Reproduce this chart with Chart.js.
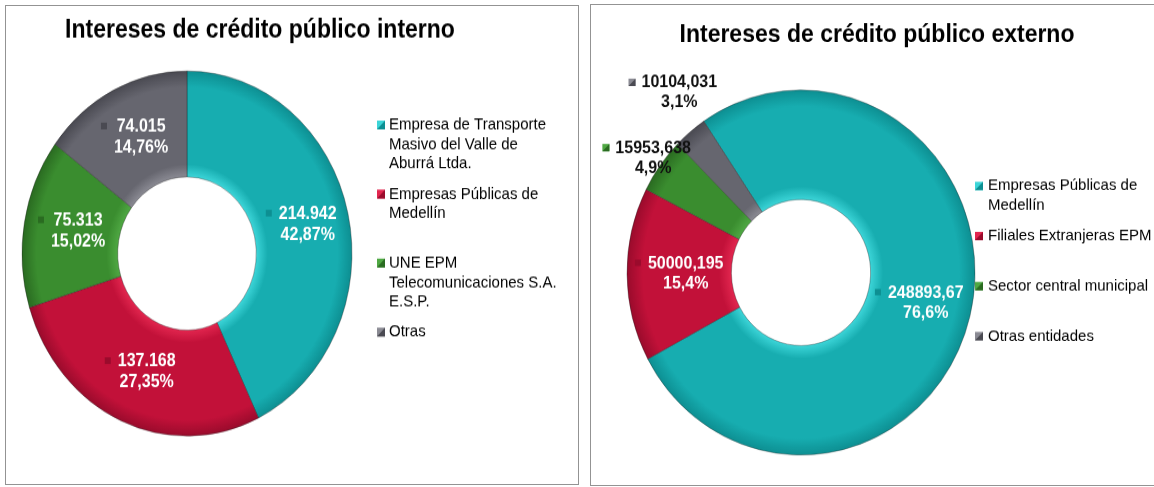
<!DOCTYPE html>
<html>
<head>
<meta charset="utf-8">
<script src="https://cdn.jsdelivr.net/npm/chart.js@4/dist/chart.umd.min.js"></script>
<style>
  html, body { margin: 0; padding: 0; background: #fff; width: 1154px; height: 487px; overflow: hidden; }
  .box { position: absolute; border: 1.5px solid #939393; box-sizing: border-box; }
  .wrap { position: absolute; top: 0; transform-origin: 0 0; }
  canvas { display: block; }
</style>
</head>
<body>
<div class="box" style="left:5px;top:5px;width:574px;height:480px"></div>
<div class="box" style="left:590px;top:4px;width:600px;height:482px"></div>
<div class="wrap" style="left:0px;transform:scaleY(1.106)"><canvas id="c1" width="580" height="440"></canvas></div>
<div class="wrap" style="left:590px;transform:scaleY(1.049)"><canvas id="c2" width="564" height="465"></canvas></div>
<script>
// ---------------- data ----------------
const internoTitle = 'Intereses de crédito público interno';
const internoCategories = [
  ['Empresa de Transporte', 'Masivo del Valle de', 'Aburrá Ltda.'],
  ['Empresas Públicas de', 'Medellín'],
  ['UNE EPM', 'Telecomunicaciones S.A.', 'E.S.P.'],
  ['Otras']
];
const internoValues = [214942, 137168, 75313, 74015];
const internoPercents = ['42,87%', '27,35%', '15,02%', '14,76%'];

const externoTitle = 'Intereses de crédito público externo';
const externoCategories = [
  ['Empresas Públicas de', 'Medellín'],
  ['Filiales Extranjeras EPM'],
  ['Sector central municipal'],
  ['Otras entidades']
];
const externoValues = [248893.67, 50000.195, 15953.638, 10104.031];
const externoPercents = ['76,6%', '15,4%', '4,9%', '3,1%'];

// ---------------- styles ----------------
const internoColors = ['#17adb0', '#c21139', '#3a8d2f', '#66666f'];
const externoColors = ['#17adb0', '#c21139', '#3a8d2f', '#66666f'];
const lightColors = { '#17adb0': '#3cd5d8', '#c21139': '#e2264f', '#3a8d2f': '#4fa843', '#66666f': '#8a8a93' };
const darkColors  = { '#17adb0': '#0d8f92', '#c21139': '#9a0b2c', '#3a8d2f': '#2a6b21', '#66666f': '#4a4a52' };
const FONT = '"Liberation Sans", Arial, Helvetica, sans-serif';

function fmtThousands(v) {
  return String(Math.round(v)).replace(/\B(?=(\d{3})+(?!\d))/g, '.');
}
function fmtDecimalComma(v) {
  return String(v).replace('.', ',');
}

function shaded(colors) {
  return (c) => {
    const base = colors[c.dataIndex];
    const chart = c.chart;
    const meta = chart.getDatasetMeta(0);
    const ctrl = meta && meta.controller;
    const ca = chart.chartArea;
    if (!ca || !ctrl || !ctrl.outerRadius) return base;
    const cx = (ca.left + ca.right) / 2, cy = (ca.top + ca.bottom) / 2;
    const g = chart.ctx.createRadialGradient(cx, cy, ctrl.innerRadius, cx, cy, ctrl.outerRadius);
    g.addColorStop(0, lightColors[base]);
    g.addColorStop(0.12, base);
    g.addColorStop(0.85, base);
    g.addColorStop(1, darkColors[base]);
    return g;
  };
}

function drawKey(ctx, x, y, s, base) {
  ctx.fillStyle = lightColors[base];
  ctx.fillRect(x, y, s, s);
  ctx.fillStyle = darkColors[base];
  ctx.beginPath();
  ctx.moveTo(x + s, y);
  ctx.lineTo(x + s, y + s);
  ctx.lineTo(x, y + s);
  ctx.closePath();
  ctx.fill();
}

const panelPlugin = {
  id: 'panelText',
  afterDraw(chart, args, o) {
    const ctx = chart.ctx;
    const meta = chart.getDatasetMeta(0);
    const values = chart.data.datasets[0].data;
    ctx.save();
    // title
    ctx.fillStyle = '#000';
    ctx.font = 'bold ' + o.titleSize + 'px ' + FONT;
    ctx.textAlign = 'center';
    ctx.textBaseline = 'middle';
    ctx.fillText(o.title, o.titleX, o.titleY);
    // legend
    ctx.font = o.legendSize + 'px ' + FONT;
    ctx.textAlign = 'left';
    chart.data.labels.forEach((lab, i) => {
      const lines = Array.isArray(lab) ? lab : [lab];
      const y0 = o.legendY + i * o.legendStep;
      drawKey(ctx, o.legendX, y0 - 4, 8, o.colors[i]);
      ctx.fillStyle = '#000';
      lines.forEach((ln, j) => ctx.fillText(ln, o.legendX + o.legendTextGap, y0 + j * o.legendLine));
    });
    // data labels
    ctx.font = 'bold ' + o.labelSize + 'px ' + FONT;
    meta.data.forEach((arc, i) => {
      const p = arc.getProps(['x', 'y', 'startAngle', 'endAngle', 'innerRadius', 'outerRadius'], true);
      const out = o.outside[i];
      const mid = (p.startAngle + p.endAngle) / 2 + (out ? out.da * Math.PI / 180 : 0);
      const r = out ? p.outerRadius + out.r : (p.innerRadius + p.outerRadius) / 2;
      const cx = p.x + Math.cos(mid) * r;
      const cy = p.y + Math.sin(mid) * r;
      const l1 = o.format(values[i]);
      const l2 = o.percents[i];
      const tw = Math.max(ctx.measureText(l1).width, ctx.measureText(l2).width);
      const key = 6, gap = 7;
      const bw = key + gap + tw;
      const left = cx - bw / 2;
      const tx = left + key + gap + tw / 2;
      const y1 = cy - o.labelLine / 2, y2 = cy + o.labelLine / 2;
      const base = o.colors[i];
      if (!out) {
        ctx.fillStyle = darkColors[base];
        ctx.fillRect(left, y1 - 4, key, key);
      } else {
        drawKey(ctx, left, y1 - 4, key + 1, base);
      }
      ctx.fillStyle = out ? '#111111' : '#ffffff';
      ctx.textAlign = 'center';
      ctx.fillText(l1, tx, y1);
      ctx.fillText(l2, tx, y2);
    });
    ctx.restore();
  }
};

new Chart(document.getElementById('c1'), {
  type: 'doughnut',
  data: {
    labels: internoCategories,
    datasets: [{
      data: internoValues,
      backgroundColor: shaded(internoColors),
      borderColor: 'rgba(30,30,30,0.35)',
      borderWidth: 1
    }]
  },
  options: {
    responsive: false,
    animation: false,
    cutout: '42%',
    rotation: 0,
    layout: { padding: { left: 21.5, right: 227.5, top: 63.7, bottom: 45.3 } },
    plugins: {
      legend: { display: false },
      tooltip: { enabled: false },
      panelText: {
        title: internoTitle, titleSize: 23, titleX: 260, titleY: 28,
        colors: internoColors,
        legendX: 377, legendTextGap: 12, legendY: 113, legendStep: 62.4, legendLine: 17.6, legendSize: 15,
        labelSize: 16, labelLine: 19,
        percents: internoPercents,
        format: fmtThousands,
        outside: [null, null, null, null]
      }
    }
  },
  plugins: [panelPlugin]
});

new Chart(document.getElementById('c2'), {
  type: 'doughnut',
  data: {
    labels: externoCategories,
    datasets: [{
      data: externoValues,
      backgroundColor: shaded(externoColors),
      borderColor: 'rgba(30,30,30,0.35)',
      borderWidth: 1
    }]
  },
  options: {
    responsive: false,
    animation: false,
    cutout: '40%',
    rotation: -34,
    layout: { padding: { left: 36.5, right: 178.5, top: 85.3, bottom: 30.7 } },
    plugins: {
      legend: { display: false },
      tooltip: { enabled: false },
      panelText: {
        title: externoTitle, titleSize: 23, titleX: 287, titleY: 33.4,
        colors: externoColors,
        legendX: 385, legendTextGap: 13, legendY: 177.3, legendStep: 47.7, legendLine: 18.1, legendSize: 15,
        labelSize: 16, labelLine: 19,
        percents: externoPercents,
        format: fmtDecimalComma,
        outside: [null, null, { r: 15, da: -0.7 }, { r: 40, da: 2.8 }]
      }
    }
  },
  plugins: [panelPlugin]
});
</script>
</body>
</html>
